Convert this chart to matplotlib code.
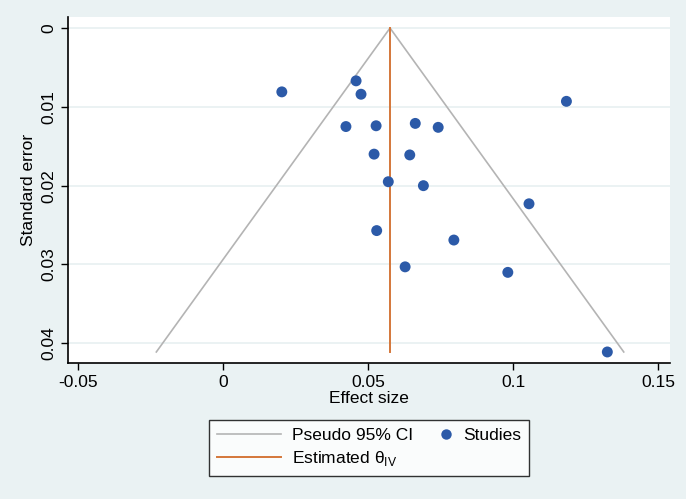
import matplotlib
matplotlib.use("Agg")
import matplotlib.pyplot as plt
from matplotlib.lines import Line2D
from matplotlib.legend_handler import HandlerLine2D
import numpy as np

plt.rcParams['font.family'] = ['Liberation Sans', 'DejaVu Sans']
plt.rcParams['mathtext.fontset'] = 'custom'
plt.rcParams['mathtext.rm'] = 'Liberation Sans'

# Data
effect = [0.0203, 0.0459, 0.0476, 0.1184, 0.0424, 0.0528, 0.0663, 0.0742, 0.0521,
          0.0644, 0.0570, 0.0691, 0.1055, 0.0530, 0.0796, 0.0628, 0.0982, 0.1325]
se = [0.0081, 0.0067, 0.0084, 0.0093, 0.0125, 0.0124, 0.0121, 0.0126, 0.0160,
      0.0161, 0.0195, 0.0200, 0.0223, 0.0257, 0.0269, 0.0303, 0.0310, 0.0411]
theta = 0.0576
x_ticks = [-0.05, 0, 0.05, 0.1, 0.15]
x_ticklabels = ['-0.05', '0', '0.05', '0.1', '0.15']
y_ticks = [0, 0.01, 0.02, 0.03, 0.04]
y_ticklabels = ['0', '0.01', '0.02', '0.03', '0.04']

bg = '#eaf2f3'
ci_color = '#b4b4b4'
theta_color = '#d4773a'
dot_color = '#2c5aa8'

fig = plt.figure(figsize=(6.86, 4.99), dpi=100, facecolor=bg)
ax = fig.add_axes([68/686, 1-363/499, (670-68)/686, (363-17)/499])
ax.set_facecolor('white')

semax = max(se)
ci_y = [semax, 0, semax]
ci_x = [theta - 1.96*semax, theta, theta + 1.96*semax]
ax.plot(ci_x, ci_y, color=ci_color, lw=1.2, zorder=2)
ax.plot([theta, theta], [0, semax], color=theta_color, lw=1.4, zorder=3)
ax.scatter(effect, se, s=62, color=dot_color, edgecolors='none', zorder=4)

ax.set_xlim(-0.0534, 0.1541)
ax.set_ylim(0.0425, -0.0014)
ax.set_xticks(x_ticks)
ax.set_xticklabels(x_ticklabels)
ax.set_yticks(y_ticks)
ax.set_yticklabels(y_ticklabels, rotation=90, va='center')
ax.tick_params(labelsize=12.5, length=5, width=1, color='black', direction='out')
ax.grid(axis='y', color='#e8f0f1', lw=1.2)
ax.set_axisbelow(True)
for s in ['top', 'right']:
    ax.spines[s].set_visible(False)
for s in ['left', 'bottom']:
    ax.spines[s].set_linewidth(1.2)
ax.set_xlabel('Effect size', fontsize=12.5, labelpad=1)
ax.set_ylabel('Standard error', fontsize=12.5, labelpad=4)


class MarkerRight(HandlerLine2D):
    def create_artists(self, legend, orig_handle, xdescent, ydescent, width, height,
                       fontsize, trans):
        m = Line2D([width - xdescent - 5], [height/2 - ydescent], linestyle='none',
                   marker='o', markersize=7.5, color=dot_color, markeredgewidth=0)
        m.set_transform(trans)
        return [m]


h_ci = Line2D([], [], color=ci_color, lw=1.2)
h_th = Line2D([], [], color=theta_color, lw=1.4)
h_st = Line2D([], [], linestyle='none', marker='o', color=dot_color)
leg = fig.legend([h_ci, h_th, h_st],
                 ['Pseudo 95% CI', 'Estimated θ$_{\\mathregular{IV}}$', 'Studies'],
                 handler_map={h_st: MarkerRight()},
                 loc='center', bbox_to_anchor=(369/686, 1-448/499), ncol=2,
                 fontsize=12.5, frameon=True, fancybox=False, edgecolor='black',
                 handlelength=3.7, columnspacing=-1.4, borderpad=0.45,
                 labelspacing=0.35, handletextpad=0.6)
leg.get_frame().set_linewidth(1.0)
fig.savefig('out.png', dpi=100, facecolor=bg)
